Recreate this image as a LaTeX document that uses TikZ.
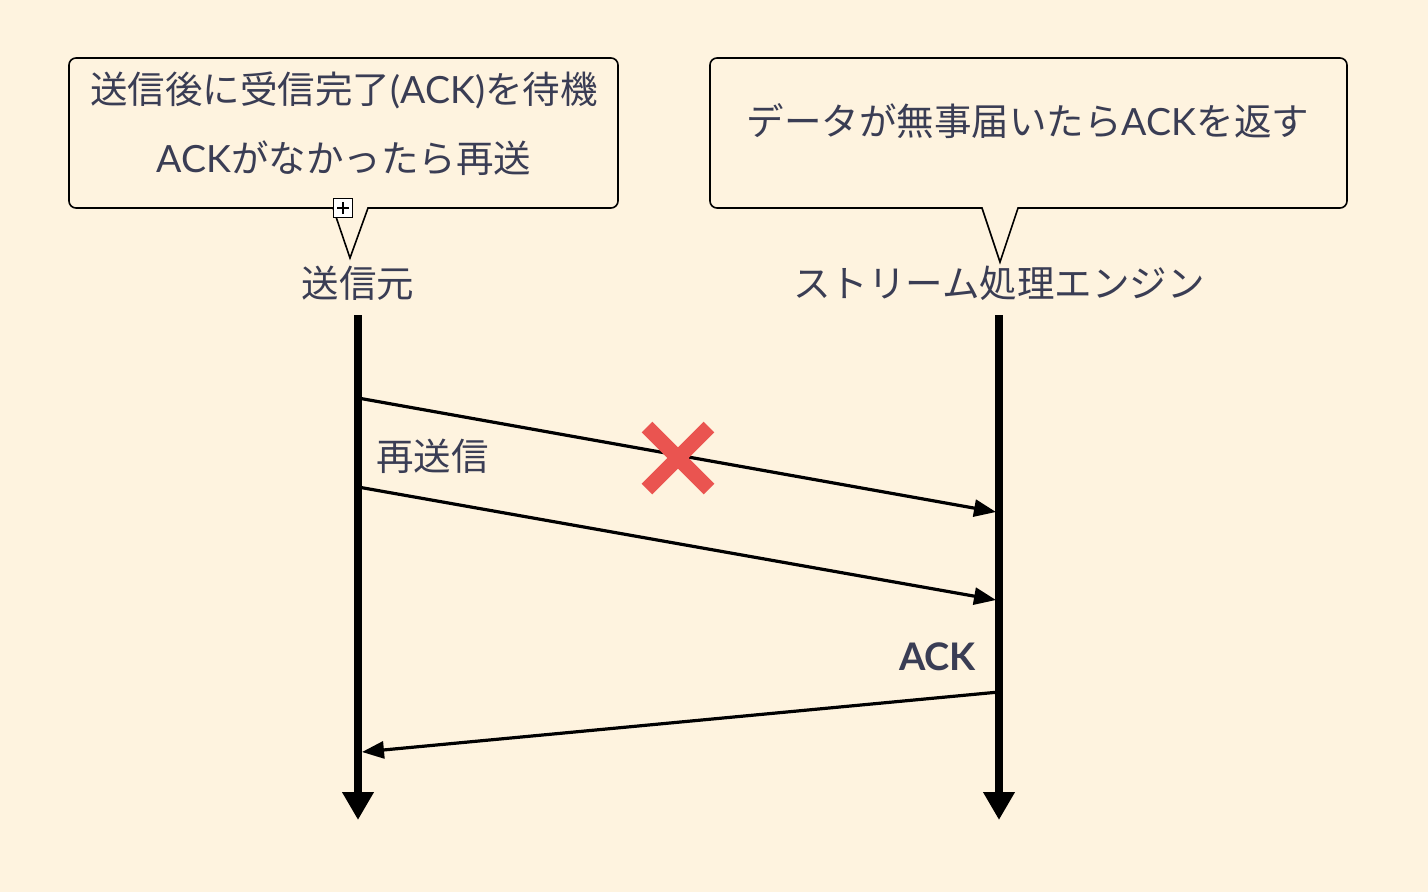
\documentclass[tikz,border=0pt]{standalone}
\usepackage{fontspec}
\setmainfont{Noto Sans CJK JP}
\newfontfamily\lat{Lato}
\usetikzlibrary{arrows.meta}
\definecolor{bg}{HTML}{FEF3DF}
\definecolor{ink}{HTML}{3A3D54}
\definecolor{crossred}{HTML}{EA5450}
\tikzset{
  callout/.style={draw=black, line width=1.6pt, fill=bg},
  txt/.style={text=ink, font=\fontsize{37.5}{44}\selectfont, inner sep=0pt},
  lifeline/.style={line width=8pt, -{Triangle[width=30pt,length=28pt]}},
  msg/.style={line width=3.2pt, -{Triangle[width=17pt,length=22pt]}},
  crossline/.style={line width=15pt, crossred},
}
\begin{document}
\begin{tikzpicture}[x=1pt,y=-1pt]
\useasboundingbox (0,0) rectangle (1428,892);
\fill[bg] (0,0) rectangle (1428,892);

% left callout
\draw[callout] (350,258) -- (333,208) [rounded corners=7] -- (69,208) -- (69,58) -- (618,58) -- (618,208) [sharp corners] -- (368,208) -- cycle;
\node[txt] (l1) at (344,90) {送信後に受信完了{\lat (ACK)}を待機};
\node[txt] (l2) at (344,158) {{\lat ACK}がなかったら再送};
\node[draw=black, fill=white, line width=1pt, minimum size=19pt, inner sep=0pt] (plus) at (343,208) {};
\draw[line width=1.2pt] ([xshift=-6pt]plus.center) -- ([xshift=6pt]plus.center);
\draw[line width=1.2pt] ([yshift=-6pt]plus.center) -- ([yshift=6pt]plus.center);

% right callout
\draw[callout] (1000,262) -- (982,208) [rounded corners=7] -- (710,208) -- (710,58) -- (1347,58) -- (1347,208) [sharp corners] -- (1018,208) -- cycle;
\node[txt] (r1) at (1028,121) {データが無事届いたら{\lat ACK}を返す};

% participants
\node[txt] (src) at (358,283) {送信元};
\node[txt] (eng) at (999,283) {ストリーム処理エンジン};

% lifelines
\coordinate (s-top) at (358,315);
\coordinate (s-bot) at (358,820);
\coordinate (e-top) at (999,315);
\coordinate (e-bot) at (999,820);
\draw[lifeline] (s-top) -- (s-bot);
\draw[lifeline] (e-top) -- (e-bot);

% messages
\coordinate (m1s) at (358,398);
\coordinate (m1e) at (996,512);
\coordinate (m2s) at (358,487);
\coordinate (m2e) at (996,600);
\coordinate (m3s) at (999,692);
\coordinate (m3e) at (362,752);
\draw[msg] (m1s) -- (m1e);
\draw[msg] (m2s) -- (m2e);
\draw[msg] (m3s) -- (m3e);

\node[txt, anchor=west] (resend) at (376,456) {再送信};
\node[txt, anchor=east, font=\lat\bfseries\fontsize{38}{44}\selectfont] (ack) at (976,657) {ACK};

% red cross
\draw[crossline] (647,427) -- (709,489);
\draw[crossline] (647,489) -- (709,427);
\end{tikzpicture}
\end{document}
